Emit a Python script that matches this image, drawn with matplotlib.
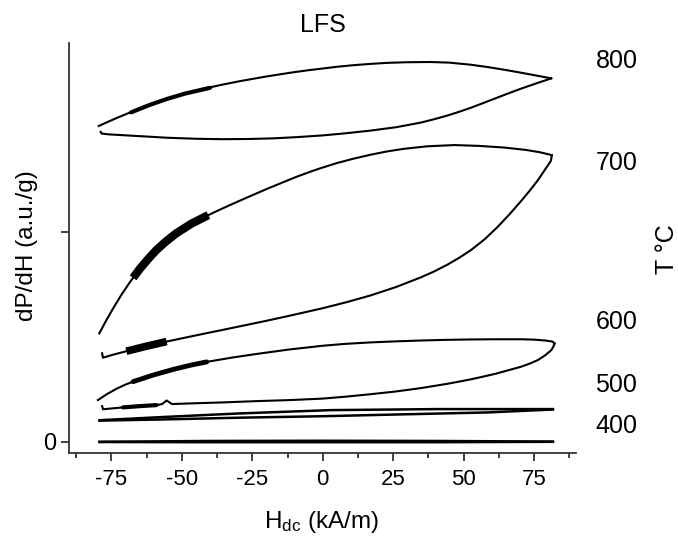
import matplotlib
matplotlib.use('Agg')
import matplotlib.pyplot as plt
import matplotlib.ticker as ticker

plt.rcParams['font.family'] = ['Liberation Sans', 'DejaVu Sans']
plt.rcParams['mathtext.fontset'] = 'custom'
plt.rcParams['mathtext.rm'] = 'Liberation Sans'
plt.rcParams['mathtext.it'] = 'Liberation Sans'
plt.rcParams['axes.unicode_minus'] = False

# loops, H in kA/m, dP/dH in arbitrary units
h800_up = [-79.5, -73.5, -67.4, -61.5, -55.5, -49.0, -42.7, -36.0, -29.3, -20.0, -11.5, -5.0, 0.0, 5.5, 11.0,
           17.0, 22.9, 30.0, 38.4, 45.0, 52.6, 58.5, 64.5, 70.4, 76.0, 81.1]
y800_up = [1.506, 1.542, 1.576, 1.606, 1.634, 1.660, 1.682, 1.702, 1.720, 1.742, 1.760, 1.772, 1.780, 1.789, 1.796,
           1.802, 1.807, 1.810, 1.811, 1.808, 1.798, 1.787, 1.774, 1.760, 1.746, 1.733]
h800_dn = [81.1, 76.0, 70.4, 66.0, 62.1, 57.5, 52.6, 48.5, 44.3, 39.5, 34.8, 26.0, 17.0, 8.0, 0.0, -9.0, -17.5,
           -26.0, -35.4, -45.0, -55.4, -63.0, -70.8, -76.0, -78.5, -78.8]
y800_dn = [1.733, 1.710, 1.684, 1.662, 1.642, 1.618, 1.593, 1.574, 1.556, 1.538, 1.522, 1.500, 1.484, 1.471, 1.461,
           1.453, 1.447, 1.444, 1.443, 1.445, 1.450, 1.456, 1.462, 1.466, 1.470, 1.478]

h700_up = [-79.3, -77.0, -74.4, -71.5, -68.5, -64.9, -62.0, -59.0, -55.5, -51.9, -46.5, -41.2, -37.0, -32.9, -26.5,
           -19.8, -10.0, -4.0, 0.0, 5.0, 10.9, 17.0, 23.0, 28.8, 37.0, 46.7, 55.5, 64.5, 72.0, 77.0, 81.3]
y700_up = [0.517, 0.575, 0.636, 0.700, 0.760, 0.825, 0.871, 0.915, 0.957, 0.995, 1.041, 1.077, 1.104, 1.129, 1.167,
           1.206, 1.260, 1.290, 1.308, 1.329, 1.350, 1.369, 1.385, 1.397, 1.409, 1.415, 1.411, 1.403, 1.392, 1.381, 1.367]
h700_dn = [81.3, 81.0, 79.0, 76.4, 73.5, 70.4, 66.5, 62.1, 57.5, 52.6, 48.5, 44.3, 39.5, 34.8, 26.0, 17.0, 8.5, 0.0,
           -11.5, -20.0, -29.3, -35.0, -41.2, -48.0, -55.4, -62.5, -69.7, -74.5, -78.0, -78.3]
y700_dn = [1.367, 1.340, 1.300, 1.248, 1.198, 1.148, 1.088, 1.025, 0.966, 0.914, 0.878, 0.845, 0.812, 0.784, 0.738,
           0.698, 0.666, 0.637, 0.602, 0.577, 0.551, 0.535, 0.518, 0.499, 0.478, 0.456, 0.432, 0.415, 0.401, 0.422]

h600_up = [-79.8, -76.5, -73.2, -70.0, -67.3, -60.0, -53.1, -47.0, -41.2, -32.0, -23.4, -12.0, 0.0, 8.0, 17.0, 26.0,
           34.8, 43.5, 52.6, 61.5, 70.4, 75.1, 79.0, 81.5, 82.3]
y600_up = [0.199, 0.228, 0.253, 0.273, 0.287, 0.319, 0.345, 0.365, 0.381, 0.402, 0.419, 0.440, 0.458, 0.467, 0.474, 0.479,
           0.483, 0.486, 0.488, 0.489, 0.489, 0.487, 0.483, 0.478, 0.469]
h600_dn = [82.3, 81.8, 81.1, 79.0, 76.4, 73.5, 70.4, 61.5, 57.0, 52.6, 48.0, 43.5, 34.8, 26.0, 17.0, 8.0, 0.0, -11.5,
           -23.4, -35.0, -47.1, -53.5, -55.4, -57.0, -59.0, -65.0, -70.9, -75.0, -78.0, -78.3]
y600_dn = [0.469, 0.452, 0.437, 0.413, 0.390, 0.373, 0.358, 0.325, 0.311, 0.298, 0.286, 0.275, 0.256, 0.240, 0.227,
           0.215, 0.206, 0.199, 0.194, 0.188, 0.183, 0.180, 0.197, 0.180, 0.175, 0.170, 0.164, 0.159, 0.155, 0.170]

h500_up = [-79.2, -55.4, -30.0, 2.7, 40.7, 81.7]
y500_up = [0.103, 0.119, 0.135, 0.151, 0.156, 0.156]
h500_dn = [81.7, 58.5, 28.8, 0.0, -29.3, -55.4, -79.2]
y500_dn = [0.154, 0.140, 0.131, 0.122, 0.115, 0.107, 0.101]

h400_up = [-79.2, -40.0, 0.0, 40.0, 81.7]
y400_up = [0.000, 0.004, 0.005, 0.004, 0.001]
h400_dn = [81.7, 40.0, 0.0, -40.0, -79.2]
y400_dn = [0.000, -0.002, -0.002, -0.002, -0.001]

# noisy (thick) stretches of the traces
n800_h = [-68.0, -61.5, -55.5, -49.0, -40.0]
n800_y = [1.571, 1.606, 1.634, 1.660, 1.688]
n700u_h = [-67.3, -64.9, -62.0, -59.0, -55.5, -51.9, -46.5, -40.6]
n700u_y = [0.782, 0.825, 0.871, 0.915, 0.957, 0.995, 1.041, 1.081]
n700d_h = [-69.7, -62.5, -55.4]
n700d_y = [0.432, 0.456, 0.478]
n600u_h = [-67.3, -60.0, -53.1, -47.0, -41.2]
n600u_y = [0.287, 0.319, 0.345, 0.365, 0.381]
n600d_h = [-70.9, -65.0, -59.0]
n600d_y = [0.164, 0.170, 0.175]

temps = ['800', '700', '600', '500', '400']
temp_y = [1.781, 1.296, 0.536, 0.238, 0.040]

fig = plt.figure(figsize=(6.78, 5.36), dpi=100)
ax = fig.add_axes([0.102, 0.1554, 0.748, 0.7649])

k = 'black'
for hh, yy in [(h800_up, y800_up), (h800_dn, y800_dn), (h700_up, y700_up), (h700_dn, y700_dn),
               (h600_up, y600_up), (h600_dn, y600_dn)]:
    ax.plot(hh, yy, color=k, lw=1.5, solid_joinstyle='round')
for hh, yy in [(h500_up, y500_up), (h500_dn, y500_dn), (h400_up, y400_up), (h400_dn, y400_dn)]:
    ax.plot(hh, yy, color=k, lw=1.8, solid_joinstyle='round')

ax.plot(n800_h, n800_y, color=k, lw=3.0, solid_capstyle='round')
ax.plot(n700u_h, n700u_y, color=k, lw=6.0, solid_capstyle='butt')
ax.plot(n700d_h, n700d_y, color=k, lw=5.5, solid_capstyle='butt')
ax.plot(n600u_h, n600u_y, color=k, lw=3.5, solid_capstyle='round')
ax.plot(n600d_h, n600d_y, color=k, lw=3.0, solid_capstyle='round')

ax.set_xlim(-90, 90)
ax.set_ylim(-0.052, 1.903)
ax.xaxis.set_major_locator(ticker.FixedLocator([-75, -50, -25, 0, 25, 50, 75]))
ax.xaxis.set_minor_locator(ticker.MultipleLocator(12.5))
ax.set_yticks([0, 1])
ax.set_yticklabels(['0', ''])

for s in ['top', 'right']:
    ax.spines[s].set_visible(False)
for s in ['left', 'bottom']:
    ax.spines[s].set_linewidth(1.3)
    ax.spines[s].set_color('#333333')

ax.tick_params(axis='both', which='major', direction='out', length=6, width=1.3,
               color='#333333', labelsize=16)
ax.tick_params(axis='x', which='major', pad=6)
ax.tick_params(axis='y', which='major', pad=3, labelsize=17)
ax.tick_params(axis='x', which='minor', direction='out', length=3.5, width=1.3, color='#333333')

for t, y in zip(temps, temp_y):
    ax.text(96.8, y, t, fontsize=18, ha='left', va='baseline', clip_on=False)

ax.set_title('LFS', fontsize=18, pad=8)
fig.text(321.5 / 678, 1 - 528.3 / 536, 'H$_{\\rm dc}$ (kA/m)', fontsize=17.5, ha='center', va='baseline')
fig.text(27 / 678, 1 - 246 / 536, 'dP/dH (a.u./g)', fontsize=17.5, rotation=90, ha='center', va='center')
fig.text(667 / 678, 1 - 249 / 536, 'T \u00b0C', fontsize=18, rotation=90, ha='center', va='center')

fig.savefig('out.png', dpi=100)
plt.close(fig)
